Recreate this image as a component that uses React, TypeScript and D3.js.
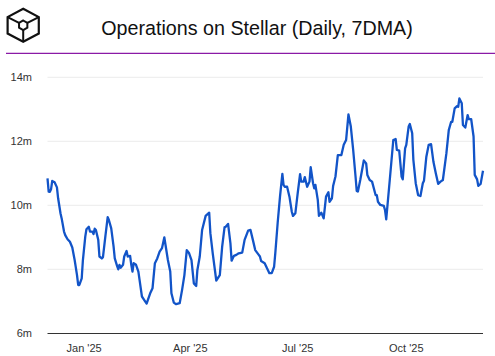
import React from "react";
import * as d3 from "d3";

const startDate = new Date(2024, 11, 1);
const endDate = new Date(2025, 11, 5);
const dayOffsets = [0,1,2,3,4,6,8,9,11,12,14,15,17,19,21,23,25,26,27,29,30,32,33,35,36,38,39,40,41,43,44,46,47,49,51,52,54,56,57,59,60,61,62,64,65,67,68,70,71,72,73,75,77,78,80,82,84,85,87,89,91,93,95,97,99,100,102,104,105,107,109,112,114,116,118,120,122,124,126,127,129,131,134,137,138,140,143,146,148,150,151,153,155,156,158,160,162,165,167,170,172,174,176,179,180,181,184,186,188,190,192,193,195,197,199,200,201,203,205,207,208,210,212,214,215,217,218,220,222,223,225,226,227,229,230,232,234,236,238,239,241,242,244,246,249,251,253,255,257,259,261,262,263,265,268,270,271,273,275,278,279,280,282,285,286,287,290,293,295,296,298,300,301,303,304,306,307,309,310,312,314,316,318,319,321,323,325,327,329,331,333,335,338,340,342,343,345,347,348,349,351,352,354,356,357,359,361,362,364,365,367,369];
const opsMillions = [10.84,10.43,10.42,10.5,10.76,10.72,10.56,10.22,9.75,9.59,9.18,9.07,8.94,8.86,8.68,8.29,7.82,7.51,7.51,7.72,8.29,9.02,9.25,9.33,9.18,9.18,9.1,9.27,9.23,8.92,8.4,8.34,8.38,9.02,9.63,9.54,9.28,8.71,8.34,8.1,8.0,8.14,8.05,8.14,8.4,8.57,8.4,8.42,8.14,7.93,8.19,8.14,7.93,7.67,7.15,7.04,6.93,7.04,7.25,7.41,8.19,8.34,8.55,8.66,9.0,8.76,8.29,7.93,7.25,6.96,6.91,6.94,7.35,7.82,8.6,8.5,8.29,7.56,7.48,7.98,8.4,9.23,9.67,9.77,9.13,8.5,7.65,7.82,8.71,9.31,9.33,9.42,8.81,8.27,8.42,8.45,8.5,8.52,8.92,9.21,9.23,8.92,8.6,8.45,8.4,8.26,8.19,8.03,7.88,7.88,8.08,8.5,9.44,10.27,10.98,10.64,10.58,10.58,10.27,9.8,9.67,9.75,10.38,10.97,10.74,10.74,10.88,10.58,10.74,11.19,10.69,10.53,10.64,10.17,9.67,9.77,9.59,10.27,10.41,10.11,10.22,10.6,10.9,11.57,11.57,11.89,12.04,12.84,12.46,11.73,10.9,10.45,10.43,10.79,11.4,11.31,10.95,10.79,10.74,10.32,10.32,10.11,10.01,9.98,9.85,9.56,10.79,12.04,12.07,11.73,11.71,10.9,10.81,11.78,11.89,12.46,12.54,12.25,11.42,10.69,10.32,10.29,10.69,10.77,11.52,11.89,11.91,11.36,11.0,10.67,10.74,10.79,11.63,12.35,12.61,12.61,13.03,13.1,13.08,13.34,13.19,12.51,12.43,12.82,12.69,12.69,12.15,10.95,10.81,10.61,10.67,11.08];
const yTicks = [6, 8, 10, 12, 14];
const xTickDates = [new Date(2025, 0, 1), new Date(2025, 3, 1), new Date(2025, 6, 1), new Date(2025, 9, 1)];
const xTickLabels = ["Jan '25", "Apr '25", "Jul '25", "Oct '25"];
const title = "Operations on Stellar (Daily, 7DMA)";

const FONT = "'Liberation Sans', Arial, sans-serif";

export default function App() {
  const x = d3.scaleTime().domain([startDate, endDate]).range([47.5, 483]);
  const y = d3.scaleLinear().domain([6, 14]).range([333.3, 77.3]);
  const n = Math.min(dayOffsets.length, opsMillions.length);
  const points: [number, number][] = d3.range(n).map((i) => [
    x(d3.timeDay.offset(startDate, dayOffsets[i])),
    y(opsMillions[i]),
  ]);
  const path = d3.line().curve(d3.curveLinear)(points) ?? "";

  const cx = 23.2;
  const cy = 25.3;
  const hex = (rx: number, ry: number) =>
    d3.range(6).map((i) => {
      const a = (Math.PI / 3) * i - Math.PI / 2;
      return [cx + rx * Math.cos(a), cy + ry * Math.sin(a)] as [number, number];
    });
  const outer = hex(18, 16.5);
  const inner = hex(4.8, 4.8);

  return (
    <svg
      width={495}
      height={356}
      style={{ position: "absolute", left: 0, top: 0, background: "#fff" }}
      fontFamily={FONT}
    >
      <polygon points={outer.map((p) => p.join(",")).join(" ")} fill="none" stroke="#111" strokeWidth={2.2} />
      <polygon points={inner.map((p) => p.join(",")).join(" ")} fill="none" stroke="#111" strokeWidth={2} />
      {[1, 3, 5].map((i) => (
        <line key={i} x1={outer[i][0]} y1={outer[i][1]} x2={inner[i][0]} y2={inner[i][1]} stroke="#111" strokeWidth={2} />
      ))}
      <text x={257} y={35} textAnchor="middle" fontSize={19.7} fill="#111">{title}</text>
      <line x1={6} x2={495} y1={53.4} y2={53.4} stroke="#8a1aa6" strokeWidth={1.4} />
      {yTicks.map((t) => (
        <g key={t}>
          {t !== 6 && <line x1={47.5} x2={483} y1={y(t)} y2={y(t)} stroke="#ececec" strokeWidth={1} />}
          <text x={32} y={y(t) + 4} textAnchor="end" fontSize={11} fill="#333">{`${t}m`}</text>
        </g>
      ))}
      <line x1={47.5} x2={483} y1={333.5} y2={333.5} stroke="#333" strokeWidth={1} />
      {xTickDates.map((d, i) => (
        <text key={i} x={x(d)} y={352} textAnchor="middle" fontSize={11} fill="#333">{xTickLabels[i]}</text>
      ))}
      <path d={path} fill="none" stroke="#1254c8" strokeWidth={2.3} strokeLinejoin="round" />
    </svg>
  );
}
